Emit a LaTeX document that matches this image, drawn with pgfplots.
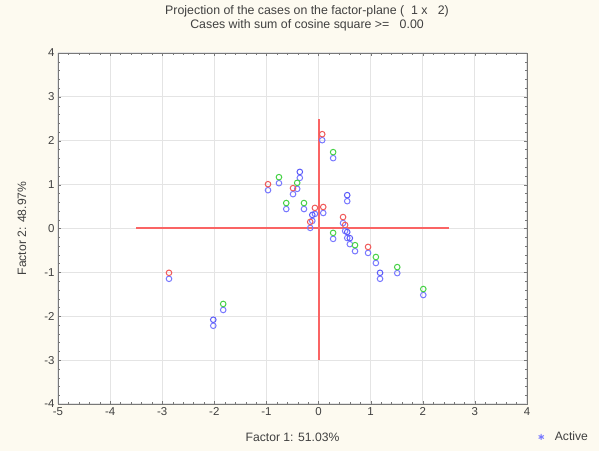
\documentclass[border=0pt]{standalone}
\usepackage{pgfplots}
\pgfplotsset{compat=1.18}
\usepackage{fontspec}
\setmainfont{Liberation Sans}
\definecolor{bgcream}{RGB}{253,250,240}
\definecolor{pred}{RGB}{240,90,90}
\definecolor{pgreen}{RGB}{70,210,70}
\definecolor{pblue}{RGB}{90,90,250}
\definecolor{lblue}{RGB}{120,120,255}
\definecolor{cross}{RGB}{250,100,100}
\definecolor{gridgray}{RGB}{228,228,228}
\definecolor{framegray}{RGB}{120,120,120}
\begin{document}
\begin{tikzpicture}[x=1bp,y=1bp]
\fill[bgcream] (0,0) rectangle (599,451);
\useasboundingbox (0,0) rectangle (599,451);
\begin{axis}[
  at={(58bp,47bp)}, anchor=south west,
  width=469bp, height=351bp, scale only axis,
  xmin=-5, xmax=4, ymin=-4, ymax=4,
  xtick={-5,...,4}, ytick={-4,...,4},
  minor x tick num=4, minor y tick num=4,
  axis background/.style={fill=white},
  axis line style={framegray, line width=0.9pt},
  tick style={framegray}, major tick length=3bp, minor tick length=2bp,
  grid=major, major grid style={gridgray, line width=1.1pt},
  tick label style={font=\fontsize{11.5}{13}\selectfont, text=black!75},
  /pgf/number format/assume math mode=true,
  xlabel={Factor 1: 51.03\%}, ylabel={Factor 2: 48.97\%},
  label style={font=\fontsize{12.2}{14}\selectfont, text=black!75},
  xlabel style={at={(axis description cs:0.5,-0.094)}, anchor=center},
  ylabel style={at={(axis description cs:-0.077,0.5)}, anchor=center},
  title={Projection of the cases on the factor-plane (\ \ 1 x \ \ 2)\\Cases with sum of cosine square >= \ \ 0.00},
  title style={align=center, font=\fontsize{12.4}{14}\selectfont, text=black!75, at={(axis description cs:0.531,1.083)}, anchor=center},
  legend style={at={(axis description cs:1.018,-0.094)}, anchor=west, draw=none, fill=none, font=\fontsize{12.2}{14}\selectfont, text=black!75},
  legend cell align=left,
  clip=false,
]
% cross lines
\addplot[cross, line width=2pt, forget plot] coordinates {(-3.5,0) (2.5,0)};
\addplot[cross, line width=2pt, forget plot] coordinates {(0,-3) (0,2.5)};
\pgfplotstableread{
x y
-2.87 -1.01
-1.83 -1.72
-2.02 -2.08
-0.97 1.01
-0.76 1.17
-0.49 0.92
-0.41 1.04
-0.36 1.29
-0.62 0.58
-0.28 0.58
0.07 2.15
0.28 1.74
-0.07 0.47
0.09 0.49
-0.16 0.15
-0.12 0.31
0.55 0.76
0.28 -0.10
0.47 0.26
0.51 0.08
0.55 -0.08
0.60 -0.22
0.70 -0.38
0.95 -0.42
1.10 -0.65
1.18 -1.01
1.51 -0.88
2.01 -1.38
}\allpts
\pgfplotstableread{
x y
-2.87 -1.01
-0.97 1.01
-0.49 0.92
0.07 2.15
-0.07 0.47
0.09 0.49
-0.16 0.15
0.47 0.26
0.51 0.08
0.95 -0.42
}\redpts
\pgfplotstableread{
x y
-1.83 -1.72
-0.76 1.17
-0.41 1.04
-0.62 0.58
-0.28 0.58
0.28 1.74
0.28 -0.10
0.70 -0.38
1.10 -0.65
1.51 -0.88
2.01 -1.38
}\greenpts
\pgfplotstableread{
x y
-2.02 -2.08
-0.36 1.29
-0.12 0.31
0.55 0.76
0.55 -0.08
0.60 -0.22
1.18 -1.01
}\bluepts
\addplot[only marks, mark=o, mark size=2.8bp, lblue, line width=1pt, mark options={yshift=-6bp}, forget plot] table {\allpts};
\addplot[only marks, mark=o, mark size=2.8bp, pred, line width=1pt, forget plot] table {\redpts};
\addplot[only marks, mark=o, mark size=2.8bp, pgreen, line width=1pt, forget plot] table {\greenpts};
\addplot[only marks, mark=o, mark size=2.8bp, pblue, line width=1pt, forget plot] table {\bluepts};
\addlegendimage{only marks, mark=asterisk, mark size=3bp, lblue, line width=1pt}
\addlegendentry{\hspace{9bp}Active}
\end{axis}
\end{tikzpicture}
\end{document}
